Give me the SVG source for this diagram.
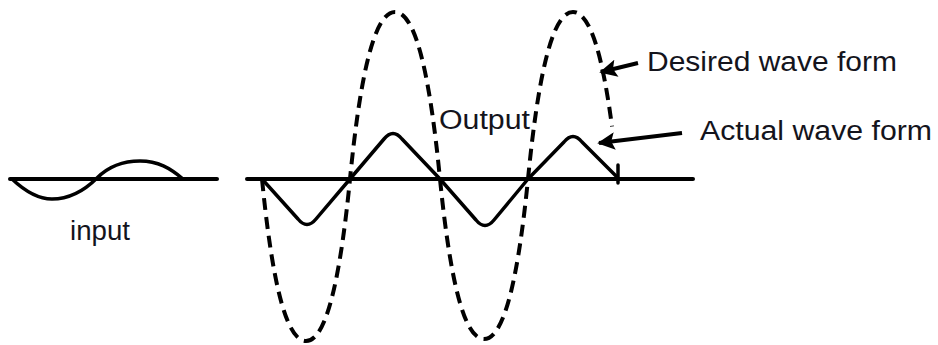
<svg xmlns="http://www.w3.org/2000/svg" width="938" height="345" viewBox="0 0 938 345">
<defs>
<style>
.axis{stroke:#000;stroke-width:4;fill:none;stroke-linecap:round}
.solid{stroke:#000;stroke-width:3.5;fill:none;stroke-linejoin:round;stroke-linecap:round}
.dash{stroke:#000;stroke-width:4;fill:none;stroke-dasharray:12 7}
.lbl{font-family:"Liberation Sans",Arial,sans-serif;font-size:27px;fill:#14141c}
.arrow{stroke:#000;stroke-width:4;fill:none}
</style>
<marker id="ah" viewBox="0 0 10 10" refX="9" refY="5" markerWidth="4.8" markerHeight="4.4" markerUnits="strokeWidth" orient="auto">
<path d="M0,0 L10,5 L0,10 L2,5 Z" fill="#000"/>
</marker>
</defs>
<rect width="938" height="345" fill="#fff"/>
<g id="input-wave">
<line class="axis" x1="10" y1="179" x2="217" y2="179"/>
<path class="solid" d="M12,179 C30,196 42,199 52,199 C70,199 85,190 97,178 C110,165 125,161 140,161 C158,161 170,168 183,179"/>
<text class="lbl" x="70" y="240" textLength="60" lengthAdjust="spacingAndGlyphs">input</text>
</g>
<g id="output-wave">
<line class="axis" x1="247" y1="179" x2="693" y2="179"/>
<path class="dash" d="M262,179 C270.8,268.1 284,341 306,341 C328,341 341.2,268.1 350,179 C359,87.2 372.5,12 395,12 C417.5,12 431,87.2 440,179 C448.8,267 462,339 484,339 C506,339 519.2,267 528,179 C537,87.2 550.5,12 573,12 C591,12 603.2,60.2 612,126.4"/>
<path class="solid" d="M262,179 L298,219 Q307,230 316,219 L350,179 L384,139 Q393,128 402,139 L440,179 L476,220 Q485,231 494,220 L528,179 L564,142 Q573,131 582,142 L617,177"/>
<line class="solid" x1="618" y1="165" x2="618" y2="183"/>
<text class="lbl" x="439" y="129" textLength="91" lengthAdjust="spacingAndGlyphs">Output</text>
</g>
<g id="desired-label">
<text class="lbl" x="647" y="71" textLength="250" lengthAdjust="spacingAndGlyphs">Desired wave form</text>
</g>
<g id="actual-label">
<text class="lbl" x="700" y="140" textLength="232" lengthAdjust="spacingAndGlyphs">Actual wave form</text>
</g>
<g id="connectors">
<line class="arrow" x1="638" y1="63" x2="601" y2="72" marker-end="url(#ah)"/>
<line class="arrow" x1="682" y1="133" x2="599" y2="143" marker-end="url(#ah)"/>
</g>
</svg>
